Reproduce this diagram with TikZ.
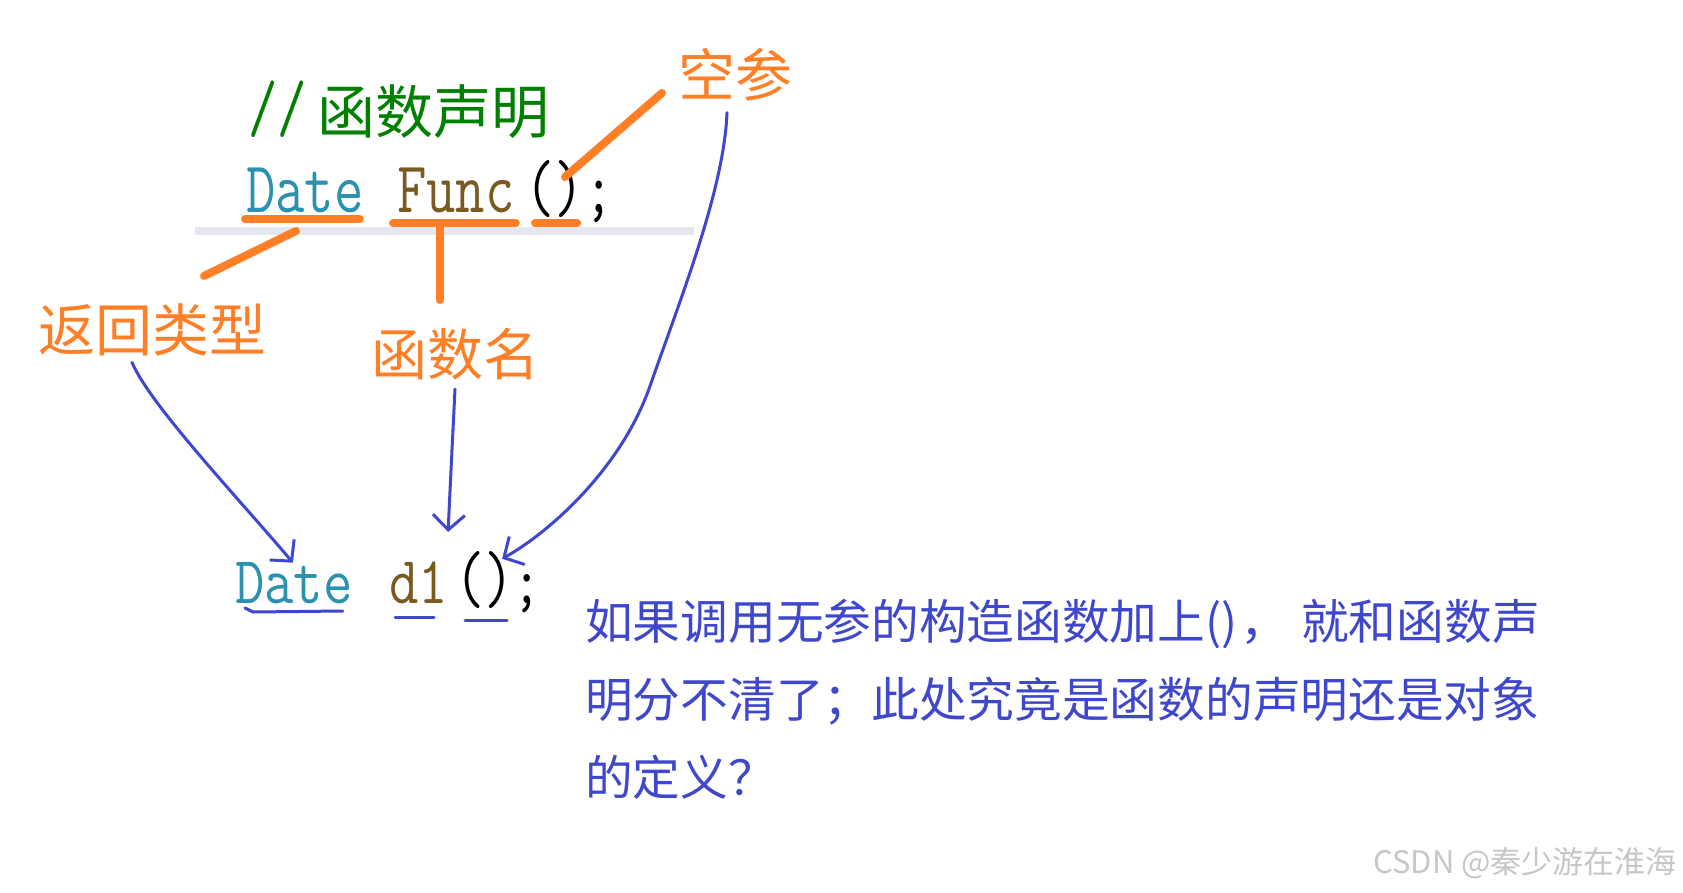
\documentclass[tikz,border=0pt]{standalone}
\usepackage{fontspec}
\usepackage{graphicx}
\newfontfamily\cjkfont{Noto Sans CJK SC}
\usetikzlibrary{arrows.meta,calc}

\definecolor{hlorange}{HTML}{FF7F27}
\definecolor{penblue}{HTML}{3F48CC}
\definecolor{typeblue}{HTML}{2B91AF}
\definecolor{funcbrown}{HTML}{7B5A22}
\definecolor{cmtgreen}{HTML}{008000}
\definecolor{rulegray}{HTML}{E6E6EF}

\newcommand{\codefont}{\ttfamily\fontsize{57}{60}\selectfont}
\newcommand{\codeup}[1]{\scalebox{1}[1.28]{\codefont #1}}
\newcommand{\codedown}[1]{\scalebox{1}[1.18]{\codefont #1}}
\newcommand{\parens}{\raisebox{1pt}{\scalebox{1}[1.29]{\codefont ()}}}

\begin{document}
\begin{tikzpicture}[
    x=1pt, y=-1pt,
    code/.style={inner sep=0pt, anchor=base west},
    lbl/.style={inner sep=0pt, text=hlorange, font={\cjkfont\fontsize{57}{60}\selectfont}},
    note/.style={inner sep=0pt, anchor=base west, text=penblue, font={\cjkfont\fontsize{47.7}{50}\selectfont}},
    hl/.style={hlorange, line width=8pt, line cap=round},
    pen/.style={penblue, line width=3pt, line cap=round, line join=round},
    penarr/.style={pen, -{Straight Barb[length=15pt, width=32pt]}}
]
\fill[white] (0,0) rectangle (1683,893);
\useasboundingbox (0,0) rectangle (1683,893);

% declaration
\node[code, text=cmtgreen] (slashes) at (248,132) {\codeup{//}};
\node[inner sep=0pt, text=cmtgreen, font={\cjkfont\fontsize{58}{60}\selectfont}] (cmt) at (433,112) {函数声明};
\draw[rulegray, line width=8pt] (195,231) -- (694,231);
\node[code, text=typeblue] (date1) at (246,213) {\codeup{Date}};
\node[code, text=funcbrown] (func) at (397,213) {\codeup{Func}};
\node[code] (paren1) at (525,213) {\parens};
\node[code] (semi1) at (584,213) {\codeup{;}};

% orange marks
\draw[hl] ([shift={(-1,6)}]date1.base west) -- ([shift={(-4,6)}]date1.base east);
\draw[hl] ([shift={(-4,10)}]func.base west) -- ([shift={(1,10)}]func.base east);
\draw[hl] ([shift={(10,10)}]paren1.base west) -- ([shift={(-7,10)}]paren1.base east);

\coordinate (retA) at (296,231);
\coordinate (retB) at (204,276);
\coordinate (nameA) at (440,223);
\coordinate (nameB) at (440,300);
\coordinate (emptyA) at (662,93);
\coordinate (emptyB) at (565,177);
\draw[hl] (retA) -- (retB);
\draw[hl] (nameA) -- (nameB);
\draw[hl] (emptyA) -- (emptyB);

\node[lbl] (lblempty) at (735,75) {空参};
\node[lbl] (lblret) at (152,330) {返回类型};
\node[lbl, font={\cjkfont\fontsize{56}{60}\selectfont}] (lblname) at (455,354) {函数名};

% object
\node[code, text=typeblue] (date2) at (235,603) {\codedown{Date}};
\node[code, text=funcbrown] (obj) at (389,603) {\codedown{d1}};
\node[code] (paren2) at (455,603) {\parens};
\node[code] (semi2) at (512,603) {\codedown{;}};

\draw[pen] ([shift={(10,5)}]date2.base west) -- ([shift={(18,9)}]date2.base west) -- ([shift={(-10,8)}]date2.base east);
\draw[pen] ([shift={(6,14)}]obj.base west) -- ([shift={(-14,14)}]obj.base east);
\draw[pen] ([shift={(10,17)}]paren2.base west) -- ([shift={(-7,17)}]paren2.base east);

\draw[penarr] ([shift={(-20,6)}]lblret.south) .. controls (150,405) and (240,500) .. ([shift={(-1,1)}]date2.north);
\draw[penarr] ([shift={(0,9)}]lblname.south) .. controls (452,450) and (450,490) .. ([shift={(0,-29)}]obj.north east);
\draw[penarr] ([shift={(-8,11)}]lblempty.south) .. controls (724,190) and (680,300) .. (650,386)
    .. controls (620,472) and (545,535) .. ([shift={(-12,8)}]paren2.north east);

% remark
\node[note] (note1) at (585,639) {如果调用无参的构造函数加上()\kern3pt，\kern13pt 就和函数声};
\node[note] (note2) at (585,717) {明分不清了；此处究竟是函数的声明还是对象};
\node[note] (note3) at (585,795) {的定义？};

\node[inner sep=0pt, anchor=east, text=black!22, font={\cjkfont\fontsize{31}{33}\selectfont}] (mark) at (1677,863) {CSDN @秦少游在淮海};
\end{tikzpicture}
\end{document}
